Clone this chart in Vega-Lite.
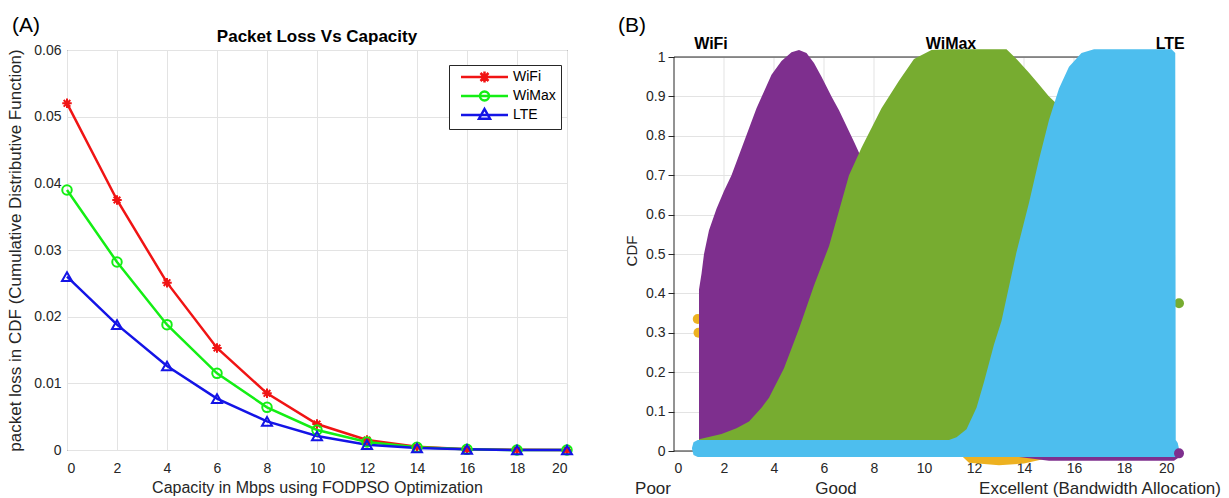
{
  "$schema": "https://vega.github.io/schema/vega-lite/v6.json",
  "background": "white",
  "padding": {"left": 6, "top": 14, "right": 2, "bottom": 0},
  "columns": 2,
  "align": "none",
  "spacing": 41,
  "config": {
    "font": "Liberation Sans",
    "view": {"stroke": "#262626", "strokeWidth": 1},
    "axis": {
      "labelFontSize": 14, "labelColor": "#262626", "titleColor": "#262626",
      "titleFontSize": 16, "titleFontWeight": "normal", "gridColor": "#e3e3e3",
      "domain": false, "ticks": false, "tickColor": "#262626"
    }
  },
  "concat": [
    {
      "width": 500,
      "height": 400,
      "data": {"values": [
        {"series": "WiFi", "x": 0, "v": 0.052}, {"series": "WiFi", "x": 2, "v": 0.0375}, {"series": "WiFi", "x": 4, "v": 0.0251},
        {"series": "WiFi", "x": 6, "v": 0.0153}, {"series": "WiFi", "x": 8, "v": 0.0085}, {"series": "WiFi", "x": 10, "v": 0.0039},
        {"series": "WiFi", "x": 12, "v": 0.0015}, {"series": "WiFi", "x": 14, "v": 0.0005}, {"series": "WiFi", "x": 16, "v": 0.0001},
        {"series": "WiFi", "x": 18, "v": 0.00003}, {"series": "WiFi", "x": 20, "v": 0},
        {"series": "WiMax", "x": 0, "v": 0.039}, {"series": "WiMax", "x": 2, "v": 0.0282}, {"series": "WiMax", "x": 4, "v": 0.0188},
        {"series": "WiMax", "x": 6, "v": 0.0115}, {"series": "WiMax", "x": 8, "v": 0.0064}, {"series": "WiMax", "x": 10, "v": 0.003},
        {"series": "WiMax", "x": 12, "v": 0.0012}, {"series": "WiMax", "x": 14, "v": 0.0004}, {"series": "WiMax", "x": 16, "v": 0.0001},
        {"series": "WiMax", "x": 18, "v": 0}, {"series": "WiMax", "x": 20, "v": 0},
        {"series": "LTE", "x": 0, "v": 0.026}, {"series": "LTE", "x": 2, "v": 0.0188}, {"series": "LTE", "x": 4, "v": 0.0126},
        {"series": "LTE", "x": 6, "v": 0.0077}, {"series": "LTE", "x": 8, "v": 0.0043}, {"series": "LTE", "x": 10, "v": 0.0021},
        {"series": "LTE", "x": 12, "v": 0.0008}, {"series": "LTE", "x": 14, "v": 0.0003}, {"series": "LTE", "x": 16, "v": 0.0001},
        {"series": "LTE", "x": 18, "v": 0}, {"series": "LTE", "x": 20, "v": 0}
      ]},
      "encoding": {
        "x": {"field": "x", "type": "quantitative", "scale": {"domain": [0, 20], "nice": false},
              "axis": {"values": [0, 2, 4, 6, 8, 10, 12, 14, 16, 18, 20], "title": "Capacity in Mbps using FODPSO Optimization", "labelPadding": 11, "titlePadding": 4}},
        "y": {"field": "v", "type": "quantitative", "scale": {"domain": [0, 0.06], "nice": false},
              "axis": {"values": [0, 0.01, 0.02, 0.03, 0.04, 0.05, 0.06], "format": ".2~f", "title": "packet loss in CDF (Cumulative Distributive Function)", "titleFontSize": 17, "labelPadding": 6, "titlePadding": 9}}
      },
      "layer": [
        {
          "mark": {"type": "line", "strokeWidth": 2.5},
          "encoding": {
            "color": {"field": "series", "type": "nominal",
              "scale": {"domain": ["WiFi", "WiMax", "LTE"], "range": ["#f01414", "#14ee14", "#1414e6"]},
              "legend": {
                "title": null, "orient": "none", "legendX": 382, "legendY": 15,
                "fillColor": "white", "strokeColor": "#262626", "padding": 5,
                "labelFontSize": 14, "labelColor": "#000000", "symbolSize": 100, "rowPadding": -2,
                "symbolStrokeWidth": 2.5, "symbolOffset": 23.5, "labelOffset": 21.5,
                "encode": {"symbols": {"update": {
                  "shape": {"signal": "datum.value === 'WiFi' ? 'M-4.7,0H4.7M0,-1.1V1.1M-1.1,0H1.1M-0.8,-0.8L0.8,0.8M-0.8,0.8L0.8,-0.8' : datum.value === 'WiMax' ? 'M-4.7,0H4.7M-0.9,0A0.9,0.9 0 1,0 0.9,0A0.9,0.9 0 1,0 -0.9,0' : 'M-4.7,0H4.7M0,-1.2L1.1,0.75H-1.1Z'"},
                  "fill": {"value": "transparent"}
                }}}
              }}
          }
        },
        {
          "transform": [{"filter": "datum.series == 'WiFi'"}],
          "mark": {"type": "point", "filled": false, "strokeWidth": 2, "size": 90, "opacity": 1, "color": "#f01414",
                   "shape": "M0,-1V1M-1,0H1M-0.7,-0.7L0.7,0.7M-0.7,0.7L0.7,-0.7"}
        },
        {
          "transform": [{"filter": "datum.series == 'WiMax'"}],
          "mark": {"type": "point", "filled": false, "strokeWidth": 2, "size": 90, "opacity": 1, "color": "#14ee14", "shape": "circle"}
        },
        {
          "transform": [{"filter": "datum.series == 'LTE'"}],
          "mark": {"type": "point", "filled": false, "strokeWidth": 2, "size": 100, "opacity": 1, "color": "#1414e6", "shape": "triangle-up"}
        },
        {
          "data": {"values": [
            {"x": -1.64, "v": 0.0636, "label": "(A)", "kind": "panel"},
            {"x": 10, "v": 0.06195, "label": "Packet Loss Vs Capacity", "kind": "title"}
          ]},
          "transform": [{"filter": "datum.kind == 'panel'"}],
          "mark": {"type": "text", "fontSize": 21, "color": "#000000"},
          "encoding": {"text": {"field": "label"}}
        },
        {
          "data": {"values": [
            {"x": -1.64, "v": 0.0636, "label": "(A)", "kind": "panel"},
            {"x": 10, "v": 0.06195, "label": "Packet Loss Vs Capacity", "kind": "title"}
          ]},
          "transform": [{"filter": "datum.kind == 'title'"}],
          "mark": {"type": "text", "fontSize": 17, "fontWeight": "bold", "color": "#000000"},
          "encoding": {"text": {"field": "label"}}
        }
      ]
    },
    {
      "width": 500,
      "height": 401,
      "view": {"stroke": null},
      "data": {"values": [
        {"piece": "grid", "x": 2, "hi": 1, "lo": 0}, {"piece": "grid", "x": 4, "hi": 1, "lo": 0}, {"piece": "grid", "x": 6, "hi": 1, "lo": 0},
        {"piece": "grid", "x": 8, "hi": 1, "lo": 0}, {"piece": "grid", "x": 10, "hi": 1, "lo": 0}, {"piece": "grid", "x": 12, "hi": 1, "lo": 0},
        {"piece": "grid", "x": 14, "hi": 1, "lo": 0}, {"piece": "grid", "x": 16, "hi": 1, "lo": 0}, {"piece": "grid", "x": 18, "hi": 1, "lo": 0},
        {"piece": "frame_v", "x": 0, "hi": 1, "lo": 0}, {"piece": "frame_v", "x": 20, "hi": 1, "lo": 0},
        {"piece": "frame_h", "x": 0, "x2": 20, "hi": 1}, {"piece": "frame_h", "x": 0, "x2": 20, "hi": 0},
        {"piece": "orange_under", "x": 11.3, "lo": 0, "hi": 0},
        {"piece": "orange_under", "x": 11.8, "lo": -0.03, "hi": 0},
        {"piece": "orange_under", "x": 13.0, "lo": -0.036, "hi": 0},
        {"piece": "orange_under", "x": 14.0, "lo": -0.032, "hi": 0},
        {"piece": "orange_under", "x": 14.8, "lo": -0.02, "hi": 0},
        {"piece": "orange_under", "x": 15.2, "lo": 0, "hi": 0},
        {"piece": "purple_under", "x": 13.8, "lo": -0.015, "hi": 0},
        {"piece": "purple_under", "x": 15.0, "lo": -0.025, "hi": 0},
        {"piece": "purple_under", "x": 20.0, "lo": -0.025, "hi": 0},
        {"piece": "purple_under", "x": 20.3, "lo": -0.012, "hi": 0},
        {"piece": "orange_dot", "x": 0.95, "hi": 0.335},
        {"piece": "orange_dot", "x": 0.98, "hi": 0.30},
        {"piece": "purple_main", "x": 1.0, "lo": 0.02, "hi": 0.41},
        {"piece": "purple_main", "x": 1.1, "lo": 0.02, "hi": 0.45},
        {"piece": "purple_main", "x": 1.2, "lo": 0.02, "hi": 0.50},
        {"piece": "purple_main", "x": 1.4, "lo": 0.02, "hi": 0.56},
        {"piece": "purple_main", "x": 1.7, "lo": 0.02, "hi": 0.615},
        {"piece": "purple_main", "x": 2.0, "lo": 0.02, "hi": 0.66},
        {"piece": "purple_main", "x": 2.3, "lo": 0.02, "hi": 0.70},
        {"piece": "purple_main", "x": 2.8, "lo": 0.02, "hi": 0.785},
        {"piece": "purple_main", "x": 3.3, "lo": 0.02, "hi": 0.87},
        {"piece": "purple_main", "x": 3.9, "lo": 0.02, "hi": 0.955},
        {"piece": "purple_main", "x": 4.3, "lo": 0.02, "hi": 0.99},
        {"piece": "purple_main", "x": 4.7, "lo": 0.02, "hi": 1.012},
        {"piece": "purple_main", "x": 5.0, "lo": 0.02, "hi": 1.018},
        {"piece": "purple_main", "x": 5.3, "lo": 0.02, "hi": 1.01},
        {"piece": "purple_main", "x": 5.6, "lo": 0.02, "hi": 0.985},
        {"piece": "purple_main", "x": 5.9, "lo": 0.02, "hi": 0.95},
        {"piece": "purple_main", "x": 6.3, "lo": 0.02, "hi": 0.90},
        {"piece": "purple_main", "x": 6.6, "lo": 0.02, "hi": 0.865},
        {"piece": "purple_main", "x": 7.2, "lo": 0.02, "hi": 0.785},
        {"piece": "purple_main", "x": 7.6, "lo": 0.02, "hi": 0.73},
        {"piece": "purple_main", "x": 8.0, "lo": 0.02, "hi": 0.67},
        {"piece": "green_main", "x": 1.0, "lo": 0.0, "hi": 0.03},
        {"piece": "green_main", "x": 1.9, "lo": 0.0, "hi": 0.043},
        {"piece": "green_main", "x": 2.5, "lo": 0.0, "hi": 0.058},
        {"piece": "green_main", "x": 3.0, "lo": 0.0, "hi": 0.075},
        {"piece": "green_main", "x": 3.5, "lo": 0.0, "hi": 0.11},
        {"piece": "green_main", "x": 3.8, "lo": 0.0, "hi": 0.135},
        {"piece": "green_main", "x": 4.4, "lo": 0.0, "hi": 0.21},
        {"piece": "green_main", "x": 5.0, "lo": 0.0, "hi": 0.31},
        {"piece": "green_main", "x": 5.6, "lo": 0.0, "hi": 0.42},
        {"piece": "green_main", "x": 6.2, "lo": 0.0, "hi": 0.52},
        {"piece": "green_main", "x": 7.0, "lo": 0.0, "hi": 0.70},
        {"piece": "green_main", "x": 7.5, "lo": 0.0, "hi": 0.77},
        {"piece": "green_main", "x": 8.3, "lo": 0.0, "hi": 0.87},
        {"piece": "green_main", "x": 9.0, "lo": 0.0, "hi": 0.94},
        {"piece": "green_main", "x": 9.6, "lo": 0.0, "hi": 0.995},
        {"piece": "green_main", "x": 10.3, "lo": 0.0, "hi": 1.018},
        {"piece": "green_main", "x": 11.0, "lo": 0.0, "hi": 1.02},
        {"piece": "green_main", "x": 12.0, "lo": 0.0, "hi": 1.02},
        {"piece": "green_main", "x": 13.3, "lo": 0.0, "hi": 1.02},
        {"piece": "green_main", "x": 13.7, "lo": 0.0, "hi": 0.995},
        {"piece": "green_main", "x": 14.2, "lo": 0.0, "hi": 0.96},
        {"piece": "green_main", "x": 14.6, "lo": 0.0, "hi": 0.93},
        {"piece": "green_main", "x": 15.0, "lo": 0.0, "hi": 0.90},
        {"piece": "green_main", "x": 15.5, "lo": 0.0, "hi": 0.87},
        {"piece": "green_main", "x": 16.0, "lo": 0.0, "hi": 0.85},
        {"piece": "green_dot", "x": 20.2, "hi": 0.375},
        {"piece": "blue_main", "x": 0.72, "lo": 0.006, "hi": 0.008},
        {"piece": "blue_main", "x": 0.78, "lo": -0.01, "hi": 0.022},
        {"piece": "blue_main", "x": 0.95, "lo": -0.015, "hi": 0.028},
        {"piece": "blue_main", "x": 11.0, "lo": -0.015, "hi": 0.028},
        {"piece": "blue_main", "x": 11.3, "lo": -0.015, "hi": 0.035},
        {"piece": "blue_main", "x": 11.7, "lo": -0.015, "hi": 0.055},
        {"piece": "blue_main", "x": 12.1, "lo": -0.015, "hi": 0.11},
        {"piece": "blue_main", "x": 12.4, "lo": -0.015, "hi": 0.175},
        {"piece": "blue_main", "x": 12.8, "lo": -0.015, "hi": 0.27},
        {"piece": "blue_main", "x": 13.1, "lo": -0.015, "hi": 0.33},
        {"piece": "blue_main", "x": 13.7, "lo": -0.015, "hi": 0.505},
        {"piece": "blue_main", "x": 14.2, "lo": -0.015, "hi": 0.63},
        {"piece": "blue_main", "x": 14.6, "lo": -0.015, "hi": 0.74},
        {"piece": "blue_main", "x": 15.0, "lo": -0.015, "hi": 0.84},
        {"piece": "blue_main", "x": 15.4, "lo": -0.015, "hi": 0.92},
        {"piece": "blue_main", "x": 15.8, "lo": -0.015, "hi": 0.975},
        {"piece": "blue_main", "x": 16.3, "lo": -0.015, "hi": 1.01},
        {"piece": "blue_main", "x": 16.8, "lo": -0.015, "hi": 1.02},
        {"piece": "blue_main", "x": 19.9, "lo": -0.015, "hi": 1.02},
        {"piece": "blue_main", "x": 20.05, "lo": -0.015, "hi": 1.01},
        {"piece": "blue_main", "x": 20.07, "lo": -0.015, "hi": 0.028},
        {"piece": "blue_main", "x": 20.15, "lo": -0.01, "hi": 0.02},
        {"piece": "blue_main", "x": 20.2, "lo": 0.004, "hi": 0.006},
        {"piece": "purple_dot", "x": 20.2, "hi": -0.006},
        {"piece": "label_bold", "x": 1.48, "hi": 1.033, "label": "WiFi"},
        {"piece": "label_bold", "x": 11.08, "hi": 1.033, "label": "WiMax"},
        {"piece": "label_bold", "x": 19.85, "hi": 1.033, "label": "LTE"},
        {"piece": "label_plain", "x": -0.84, "hi": -0.0964, "label": "Poor"},
        {"piece": "label_plain", "x": 6.48, "hi": -0.0964, "label": "Good"},
        {"piece": "label_plain", "x": 17.04, "hi": -0.0964, "label": "Excellent (Bandwidth Allocation)"},
        {"piece": "label_panel", "x": -1.68, "hi": 1.079, "label": "(B)"}
      ]},
      "encoding": {
        "x": {"field": "x", "type": "quantitative", "scale": {"domain": [0, 20], "nice": false},
              "axis": {"values": [0, 2, 4, 6, 8, 10, 12, 14, 16, 18, 20], "title": null, "labelPadding": 10, "grid": false}},
        "y": {"field": "hi", "type": "quantitative", "scale": {"domain": [0, 1.0178], "nice": false},
              "axis": {"values": [0, 0.1, 0.2, 0.3, 0.4, 0.5, 0.6, 0.7, 0.8, 0.9, 1], "format": ".1~f", "title": "CDF", "titleFontSize": 15,
                       "ticks": true, "tickSize": 6, "labelPadding": 3, "titlePadding": 6}}
      },
      "layer": [
        {"transform": [{"filter": "datum.piece == 'grid'"}], "mark": {"type": "rule", "color": "#e3e3e3", "strokeWidth": 1}, "encoding": {"y2": {"field": "lo"}}},
        {"transform": [{"filter": "datum.piece == 'frame_v'"}], "mark": {"type": "rule", "color": "#262626", "strokeWidth": 1}, "encoding": {"y2": {"field": "lo"}}},
        {"transform": [{"filter": "datum.piece == 'frame_h'"}], "mark": {"type": "rule", "color": "#262626", "strokeWidth": 1}, "encoding": {"x2": {"field": "x2"}}},
        {"transform": [{"filter": "datum.piece == 'orange_under'"}], "mark": {"type": "area", "color": "#EDB120"}, "encoding": {"y2": {"field": "lo"}}},
        {"transform": [{"filter": "datum.piece == 'purple_under'"}], "mark": {"type": "area", "color": "#7E2F8E"}, "encoding": {"y2": {"field": "lo"}}},
        {"transform": [{"filter": "datum.piece == 'orange_dot'"}], "mark": {"type": "point", "filled": true, "color": "#EDB120", "size": 100, "opacity": 1}},
        {"transform": [{"filter": "datum.piece == 'purple_main'"}], "mark": {"type": "area", "color": "#7E2F8E"}, "encoding": {"y2": {"field": "lo"}}},
        {"transform": [{"filter": "datum.piece == 'green_main'"}], "mark": {"type": "area", "color": "#77AC30"}, "encoding": {"y2": {"field": "lo"}}},
        {"transform": [{"filter": "datum.piece == 'green_dot'"}], "mark": {"type": "point", "filled": true, "color": "#77AC30", "size": 100, "opacity": 1}},
        {"transform": [{"filter": "datum.piece == 'blue_main'"}], "mark": {"type": "area", "color": "#4DBEEE"}, "encoding": {"y2": {"field": "lo"}}},
        {"transform": [{"filter": "datum.piece == 'purple_dot'"}], "mark": {"type": "point", "filled": true, "color": "#7E2F8E", "size": 100, "opacity": 1}},
        {"transform": [{"filter": "datum.piece == 'label_bold'"}], "mark": {"type": "text", "fontSize": 16, "fontWeight": "bold", "color": "#000000"}, "encoding": {"text": {"field": "label"}}},
        {"transform": [{"filter": "datum.piece == 'label_plain'"}], "mark": {"type": "text", "fontSize": 17, "color": "#262626"}, "encoding": {"text": {"field": "label"}}},
        {"transform": [{"filter": "datum.piece == 'label_panel'"}], "mark": {"type": "text", "fontSize": 21, "color": "#000000"}, "encoding": {"text": {"field": "label"}}}
      ]
    }
  ]
}
